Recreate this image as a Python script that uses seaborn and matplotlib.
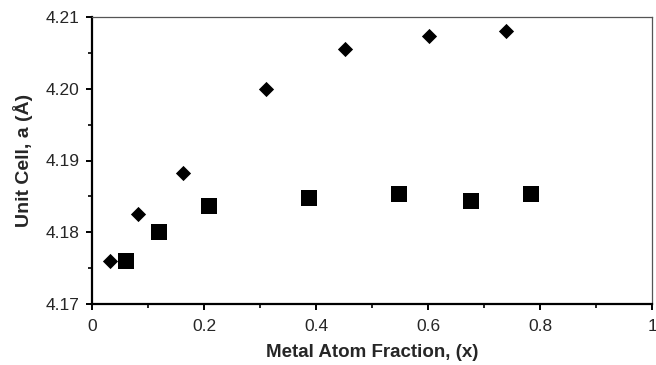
import matplotlib
matplotlib.use("Agg")
import matplotlib.pyplot as plt
import numpy as np
import pandas as pd
import seaborn as sns
from matplotlib.ticker import MultipleLocator, FormatStrFormatter

# ── Data ─────────────────────────────────────────────────────────────────────
x_diamond = [0.033, 0.082, 0.163, 0.311, 0.452, 0.602, 0.740]
a_diamond = [4.1760, 4.1825, 4.1882, 4.2000, 4.2056, 4.2074, 4.2081]

x_square = [0.061, 0.119, 0.209, 0.3875, 0.548, 0.677, 0.784]
a_square = [4.1760, 4.1800, 4.1837, 4.1848, 4.1854, 4.1844, 4.1854]

df = pd.DataFrame({
    "x": x_diamond + x_square,
    "a": a_diamond + a_square,
    "series": ["diamond"] * len(x_diamond) + ["square"] * len(x_square),
})

# ── Plot ─────────────────────────────────────────────────────────────────────
sns.set_style("white")
plt.rcParams["font.family"] = ["Liberation Sans", "DejaVu Sans"]

fig = plt.figure(figsize=(6.56, 3.65), dpi=100)
ax = fig.add_axes([92 / 656, 61 / 365, 560 / 656, 287 / 365])

sns.scatterplot(
    data=df[df.series == "diamond"], x="x", y="a", marker="D", s=60,
    color="black", edgecolor="black", linewidth=0, ax=ax, legend=False,
)
sns.scatterplot(
    data=df[df.series == "square"], x="x", y="a", marker="s", s=125,
    color="black", edgecolor="black", linewidth=0, ax=ax, legend=False,
)

ax.set_xlim(0, 1)
ax.set_ylim(4.17, 4.21)
ax.xaxis.set_major_locator(MultipleLocator(0.2))
ax.xaxis.set_minor_locator(MultipleLocator(0.1))
ax.yaxis.set_major_locator(MultipleLocator(0.01))
ax.yaxis.set_minor_locator(MultipleLocator(0.005))
ax.yaxis.set_major_formatter(FormatStrFormatter("%.2f"))


def fmt_x(v, pos):
    v = round(v, 6)
    if v in (0, 1):
        return f"{int(v)}"
    return f"{v:.1f}"


ax.xaxis.set_major_formatter(fmt_x)

for side in ("left", "bottom"):
    ax.spines[side].set_linewidth(1.6)
    ax.spines[side].set_color("black")
for side in ("top", "right"):
    ax.spines[side].set_linewidth(0.9)
    ax.spines[side].set_color("#555555")

ax.tick_params(which="major", direction="out", length=4, width=1.4,
               labelsize=12.5, color="black")
ax.tick_params(axis="x", which="major", pad=7)
ax.tick_params(axis="y", which="major", pad=5)
ax.tick_params(which="minor", direction="out", length=3, width=1.2, color="black")
ax.tick_params(axis="both", which="both", bottom=True, left=True)

ax.set_xlabel("Metal Atom Fraction, (x)", fontsize=13.5, fontweight="bold", labelpad=7)
ax.set_ylabel("Unit Cell, a (Å)", fontsize=14, fontweight="bold", labelpad=9)

fig.savefig("out.png", dpi=100)
